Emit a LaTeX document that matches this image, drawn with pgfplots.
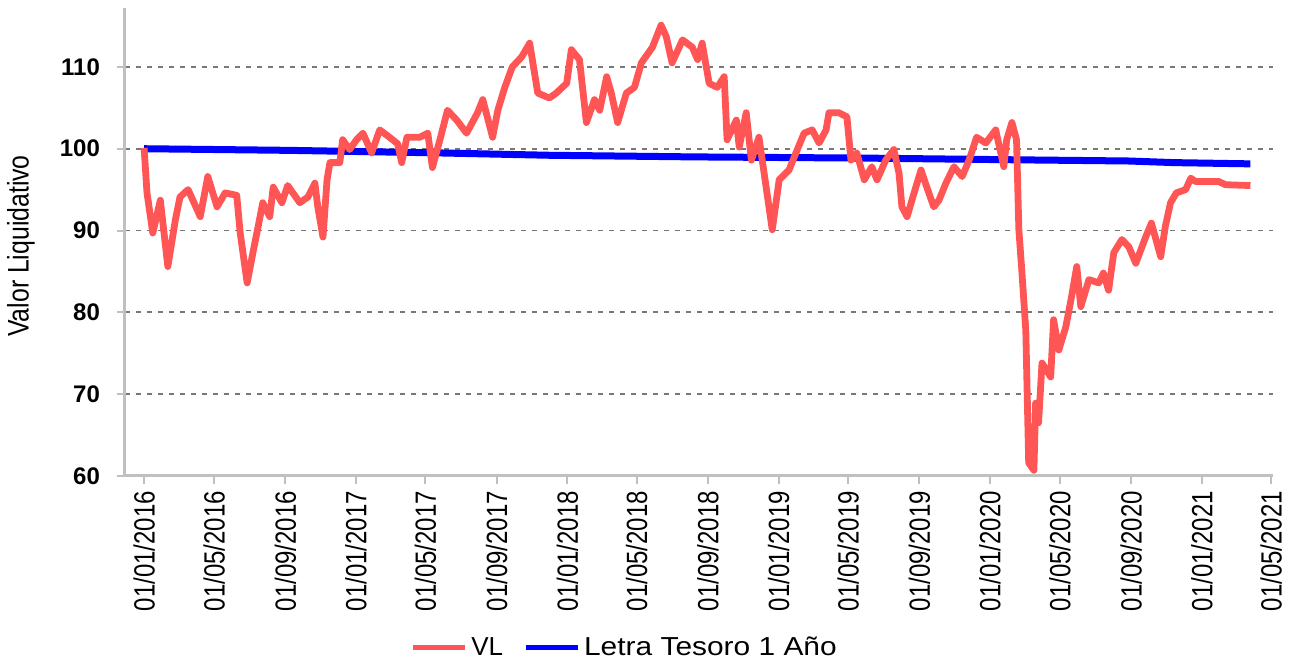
\documentclass[border=0pt]{standalone}
\usepackage{fontspec}
\setmainfont{Liberation Sans}
\usepackage{graphicx}
\usepackage{pgfplots}
\pgfplotsset{compat=1.18}
\definecolor{vl}{RGB}{255,85,85}
\definecolor{axgray}{RGB}{192,192,192}
\definecolor{gridgray}{RGB}{120,120,120}
\newcommand\xl[1]{\scalebox{1}[1.22]{#1}}
\begin{document}
\begin{tikzpicture}
\begin{axis}[
  scale only axis, width=574pt, height=234pt,
  xmin=-33, xmax=1950, ymin=60, ymax=117.2,
  axis x line=bottom, axis y line=left,
  axis line style={-, axgray, line width=1.5pt},
  xtick={0,121,244,366,486,609,731,851,974,1096,1216,1339,1461,1582,1705,1827,1947},
  xticklabels={\xl{01/01/2016},\xl{01/05/2016},\xl{01/09/2016},\xl{01/01/2017},\xl{01/05/2017},\xl{01/09/2017},\xl{01/01/2018},\xl{01/05/2018},\xl{01/09/2018},\xl{01/01/2019},\xl{01/05/2019},\xl{01/09/2019},\xl{01/01/2020},\xl{01/05/2020},\xl{01/09/2020},\xl{01/01/2021},\xl{01/05/2021}},
  ytick={60,70,80,90,100,110},
  /pgf/number format/assume math mode=true,
  tick align=outside, major tick length=4pt,
  tick style={axgray, line width=1pt},
  xticklabel style={rotate=90, anchor=east, font=\fontsize{12}{14}\selectfont},
  yticklabel style={xshift=-5pt, font=\bfseries\fontsize{12}{14}\selectfont},
  ymajorgrids=true,
  major grid style={gridgray, line width=0.9pt, dash pattern=on 2.5pt off 3pt},
  ylabel={\scalebox{1}[1.2]{Valor Liquidativo}},
  ylabel style={at={(axis description cs:-0.0906,0.4915)}, anchor=center, font=\fontsize{12.4}{14}\selectfont},
  legend columns=-1,
  legend style={at={(0.436,0)}, anchor=center, yshift=-86pt, draw=none, fill=none,
    font=\fontsize{13}{15}\selectfont,
    /tikz/every even column/.append style={column sep=8pt}},
  legend image code/.code={\draw[#1, line width=2.5pt] (0pt,0pt) -- (26pt,0pt);},
]
\coordinate (A) at (rel axis cs:0,0);
\coordinate (B) at (rel axis cs:1,1);
\addplot[blue, line width=3.5pt, forget plot] coordinates {
(0,100) (250,99.8) (500,99.5) (700,99.2) (950,99.0) (1250,98.85) (1500,98.65) (1700,98.5) (1780,98.3) (1911,98.15)
};
\addplot[vl, line width=3.4pt, line join=round] coordinates {
(0,100.1) (5,94.6) (15,89.7) (28,93.7) (41,85.6) (54,91.3) (62,94.1) (76,95.0) (97,91.7) (110,96.6)
(126,92.9) (140,94.6) (160,94.3) (166,89.7) (178,83.6) (188,87.3) (197,90.5) (205,93.4) (217,91.7) (223,95.3)
(238,93.4) (248,95.5) (269,93.4) (283,94.1) (295,95.8) (300,92.9) (309,89.2) (316,96.2) (321,98.3) (338,98.3)
(343,101.1) (355,99.9) (367,101.1) (378,101.9) (393,99.5) (407,102.3) (424,101.4) (438,100.6) (445,98.3) (454,101.4)
(476,101.4) (490,101.9) (498,97.7) (511,101.1) (524,104.7) (540,103.5) (557,101.9) (576,104.4) (585,106) (602,101.4)
(611,104.7) (623,107.5) (636,110) (652,111.2) (666,112.9) (680,106.8) (700,106.2) (712,106.8) (730,108) (738,112.1)
(752,110.9) (764,103.2) (778,106) (787,104.7) (799,108.8) (807,106.8) (818,103.2) (833,106.8) (847,107.5) (859,110.5)
(878,112.4) (893,115.1) (902,113.7) (912,110.5) (930,113.3) (947,112.4) (956,110.9) (964,112.9) (976,108) (990,107.5)
(1002,108.8) (1007,101.1) (1023,103.5) (1028,100.2) (1040,104.4) (1049,98.6) (1062,101.4) (1071,97) (1085,90.1) (1097,96.2)
(1114,97.4) (1126,99.5) (1140,101.9) (1154,102.3) (1166,100.7) (1178,102.3) (1183,104.4) (1200,104.4) (1214,103.9) (1221,98.6)
(1231,99.5) (1244,96.2) (1257,97.8) (1266,96.2) (1281,98.6) (1295,99.9) (1304,97) (1309,92.9) (1318,91.7) (1330,94.6)
(1342,97.4) (1352,95.3) (1364,92.9) (1373,93.7) (1385,95.8) (1399,97.8) (1413,96.6) (1425,98.6) (1438,101.4) (1454,100.7)
(1471,102.3) (1485,97.8) (1490,101.1) (1499,103.2) (1507,101.1) (1511,90.1) (1516,85.2) (1523,77.8) (1528,61.6) (1537,60.7)
(1540,68.9) (1545,66.5) (1551,73.8) (1566,72.1) (1571,79.1) (1580,75.4) (1592,78.2) (1602,81.9) (1611,85.6) (1618,80.7)
(1632,84) (1649,83.6) (1657,84.8) (1666,82.7) (1675,87.3) (1689,88.9) (1701,88) (1713,86) (1730,89.2) (1740,90.9)
(1756,86.8) (1764,90.5) (1773,93.4) (1783,94.6) (1799,95) (1808,96.4) (1816,96) (1856,96) (1868,95.6) (1911,95.5)
};
\addlegendentry{VL}
\addlegendimage{blue}
\addlegendentry{\scalebox{1.15}[1]{Letra Tesoro 1 Año}}
\end{axis}
\pgfresetboundingbox
\path[use as bounding box] ([shift={(-62.5pt,-93pt)}]A) rectangle ([shift={(9pt,4pt)}]B);
\end{tikzpicture}
\end{document}
